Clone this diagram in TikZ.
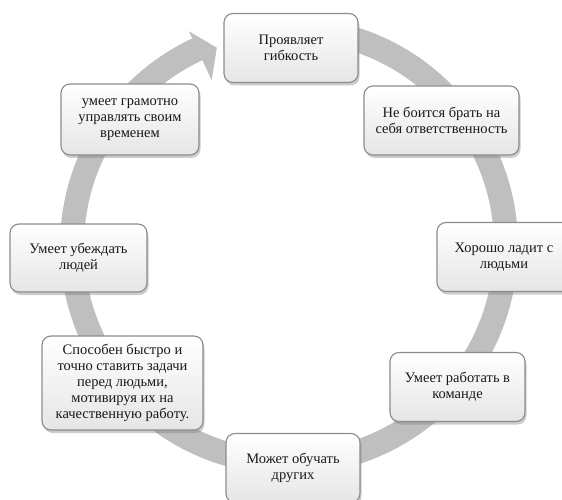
\documentclass[tikz,border=0pt]{standalone}
\usepackage{fontspec}
\setmainfont{Liberation Serif}
\usetikzlibrary{calc,shadows}
\definecolor{ringgray}{gray}{0.75}
\definecolor{boxline}{gray}{0.55}
\tikzset{
  quality/.style={rectangle, rounded corners=9pt, draw=boxline, line width=1.1pt,
    top color=white, bottom color=gray!20, align=center, text=black!90,
    font=\fontsize{14.5}{16}\selectfont,
    minimum width=134pt, minimum height=69pt, inner sep=2pt,
    drop shadow={opacity=0.4, shadow xshift=1.5pt, shadow yshift=-3pt}},
}
\begin{document}
\begin{tikzpicture}[x=1pt,y=1pt]
  \useasboundingbox (0,0) rectangle (562,499);
  \coordinate (c) at (289,253);
  % ring with its arrow head
  \draw[ringgray, line width=24pt] (c) ++(80:217) arc[start angle=80, end angle=-245, radius=217];
  \fill[ringgray] ($(c)+(115:237)$) -- ($(c)+(115:183)$) -- ($(c)+(110:211)$) -- cycle;

  \node[quality] (flex) at (291,451) {Проявляет\\гибкость};
  \node[quality, minimum width=155pt] (resp) at (441.5,378.5) {Не боится брать на\\себя ответственность};
  \node[quality] (people) at (504,242) {Хорошо ладит с\\людьми};
  \node[quality, minimum width=135pt] (team) at (457.5,112) {Умеет работать в\\команде};
  \node[quality] (teach) at (293,31) {Может обучать\\других};
  \node[quality, minimum width=161pt, minimum height=94pt] (tasks) at (122.5,116)
    {Способен быстро и\\точно ставить задачи\\перед людьми,\\мотивируя их на\\качественную работу.};
  \node[quality, minimum width=137pt, minimum height=68pt] (persuade) at (78.5,241) {Умеет убеждать\\людей};
  \node[quality, minimum width=138pt, minimum height=71pt] (time) at (130,379.5)
    {умеет грамотно\\управлять своим\\временем};
\end{tikzpicture}
\end{document}
